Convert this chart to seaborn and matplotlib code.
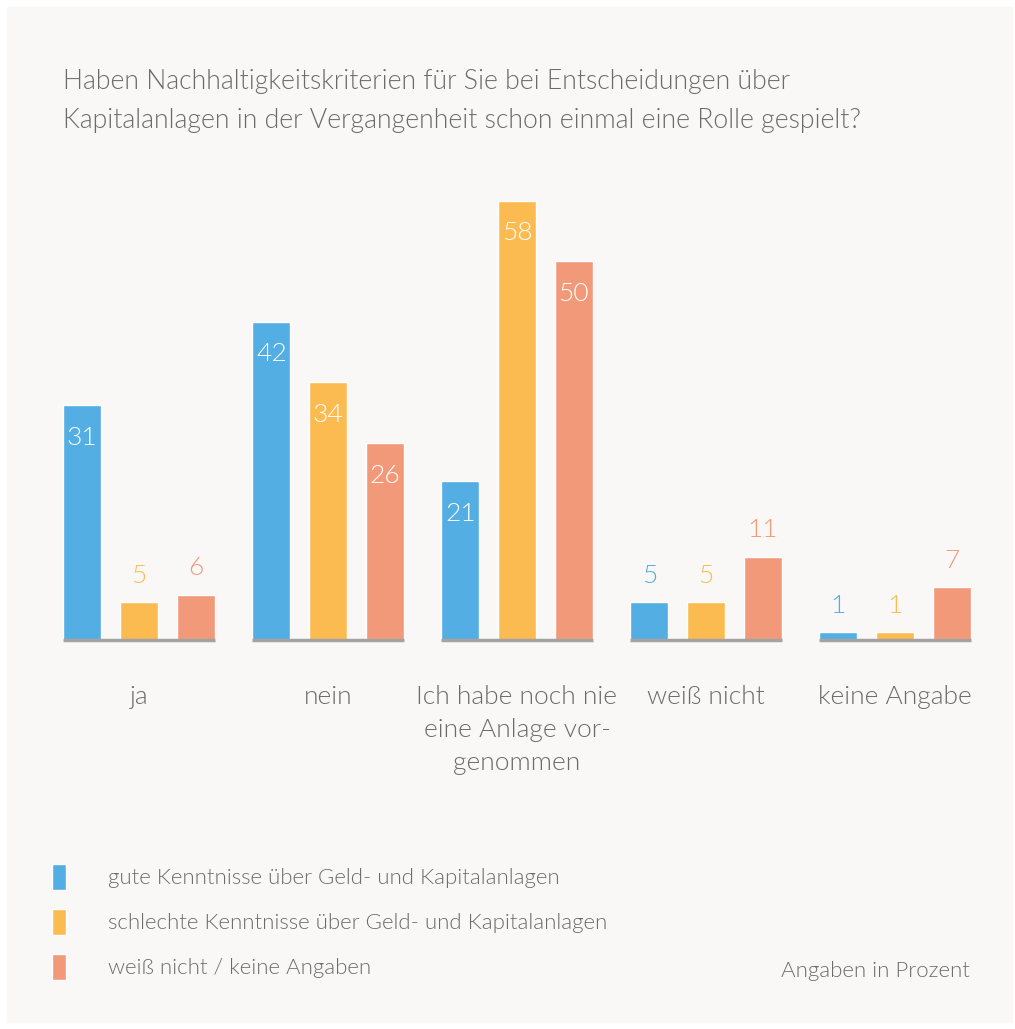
import pandas as pd
import matplotlib.pyplot as plt
import matplotlib.patches as mpatches
import seaborn as sns

categories = ["ja", "nein", "Ich habe noch nie\neine Anlage vor-\ngenommen", "weiß nicht", "keine Angabe"]
groups = [
    "gute Kenntnisse über Geld- und Kapitalanlagen",
    "schlechte Kenntnisse über Geld- und Kapitalanlagen",
    "weiß nicht / keine Angaben",
]
gute = [31, 42, 21, 5, 1]
schlechte = [5, 34, 58, 5, 1]
keine = [6, 26, 50, 11, 7]
colors = ["#52aee3", "#fcbb50", "#f2997a"]

title = ("Haben Nachhaltigkeitskriterien für Sie bei Entscheidungen über\n"
         "Kapitalanlagen in der Vergangenheit schon einmal eine Rolle gespielt?")
note = "Angaben in Prozent"

df = pd.DataFrame({
    "Antwort": categories * 3,
    "Gruppe": [groups[0]] * 5 + [groups[1]] * 5 + [groups[2]] * 5,
    "Prozent": gute + schlechte + keine,
})

bg = "#f9f8f6"
grey = "#6b6b6b"
fw = 300

sns.set_style("white")
plt.rcParams["font.family"] = ["Lato", "DejaVu Sans"]

fig = plt.figure(figsize=(10.15, 10.29), dpi=100, facecolor="white")
fig.patches.append(mpatches.Rectangle((7 / 1015, 7 / 1029), 1005 / 1015, 1015 / 1029,
                                      transform=fig.transFigure, color=bg, zorder=-10))
ax = fig.add_axes([44.5 / 1015, 389 / 1029, 945 / 1015, 453 / 1029])
ax.set_facecolor("none")
ax.set_zorder(2)

sns.barplot(data=df, x="Antwort", y="Prozent", hue="Gruppe", palette=colors,
            width=0.9, gap=1 / 3, saturation=1, ax=ax, legend=True)

ax.set_xlim(-0.5, 4.5)
ax.set_ylim(0, 59.8)
ax.set_xlabel("")
ax.set_ylabel("")
ax.set_yticks([])
sns.despine(ax=ax, left=True, bottom=True)
ax.tick_params(axis="x", length=0, pad=32.5, labelsize=19, labelcolor=grey)
for t in ax.get_xticklabels():
    t.set_fontweight(fw)
    t.set_linespacing(1.47)
    t.set_verticalalignment("top")

# value labels + baseline per group
for container, col in zip(ax.containers, colors):
    for bar in container:
        h = bar.get_height()
        xc = bar.get_x() + bar.get_width() / 2
        if h >= 15:
            ax.annotate(f"{h:.0f}", (xc, h), xytext=(0, -23.5), textcoords="offset points",
                        ha="center", va="center", color="white", fontsize=19, fontweight=fw)
        else:
            ax.annotate(f"{h:.0f}", (xc, h), xytext=(0, 19), textcoords="offset points",
                        ha="center", va="center", color=col, fontsize=19, fontweight=fw)

for i in range(len(categories)):
    lefts = [c[i].get_x() for c in ax.containers]
    rights = [c[i].get_x() + c[i].get_width() for c in ax.containers]
    ax.hlines(0, min(lefts), max(rights), color="#a3a3a3", lw=2.5, zorder=3, clip_on=False)

sns.move_legend(ax, "upper left", bbox_to_anchor=(52 / 1015, 1 - 864 / 1029),
                bbox_transform=fig.transFigure, frameon=False, title=None,
                fontsize=16, handlelength=0.63, handleheight=1.43, handletextpad=1.9,
                labelspacing=0.85, borderpad=0, borderaxespad=0)
for t in ax.get_legend().get_texts():
    t.set_color(grey)
    t.set_fontweight(fw)

fig.text(63 / 1015, 1 - 69 / 1029, title, ha="left", va="top", fontsize=19.2,
         color=grey, fontweight=fw, linespacing=1.7)
fig.text(970 / 1015, 1 - 971 / 1029, note, ha="right", va="center", fontsize=16,
         color=grey, fontweight=fw)

fig.savefig("out.png", dpi=100, facecolor="white")
